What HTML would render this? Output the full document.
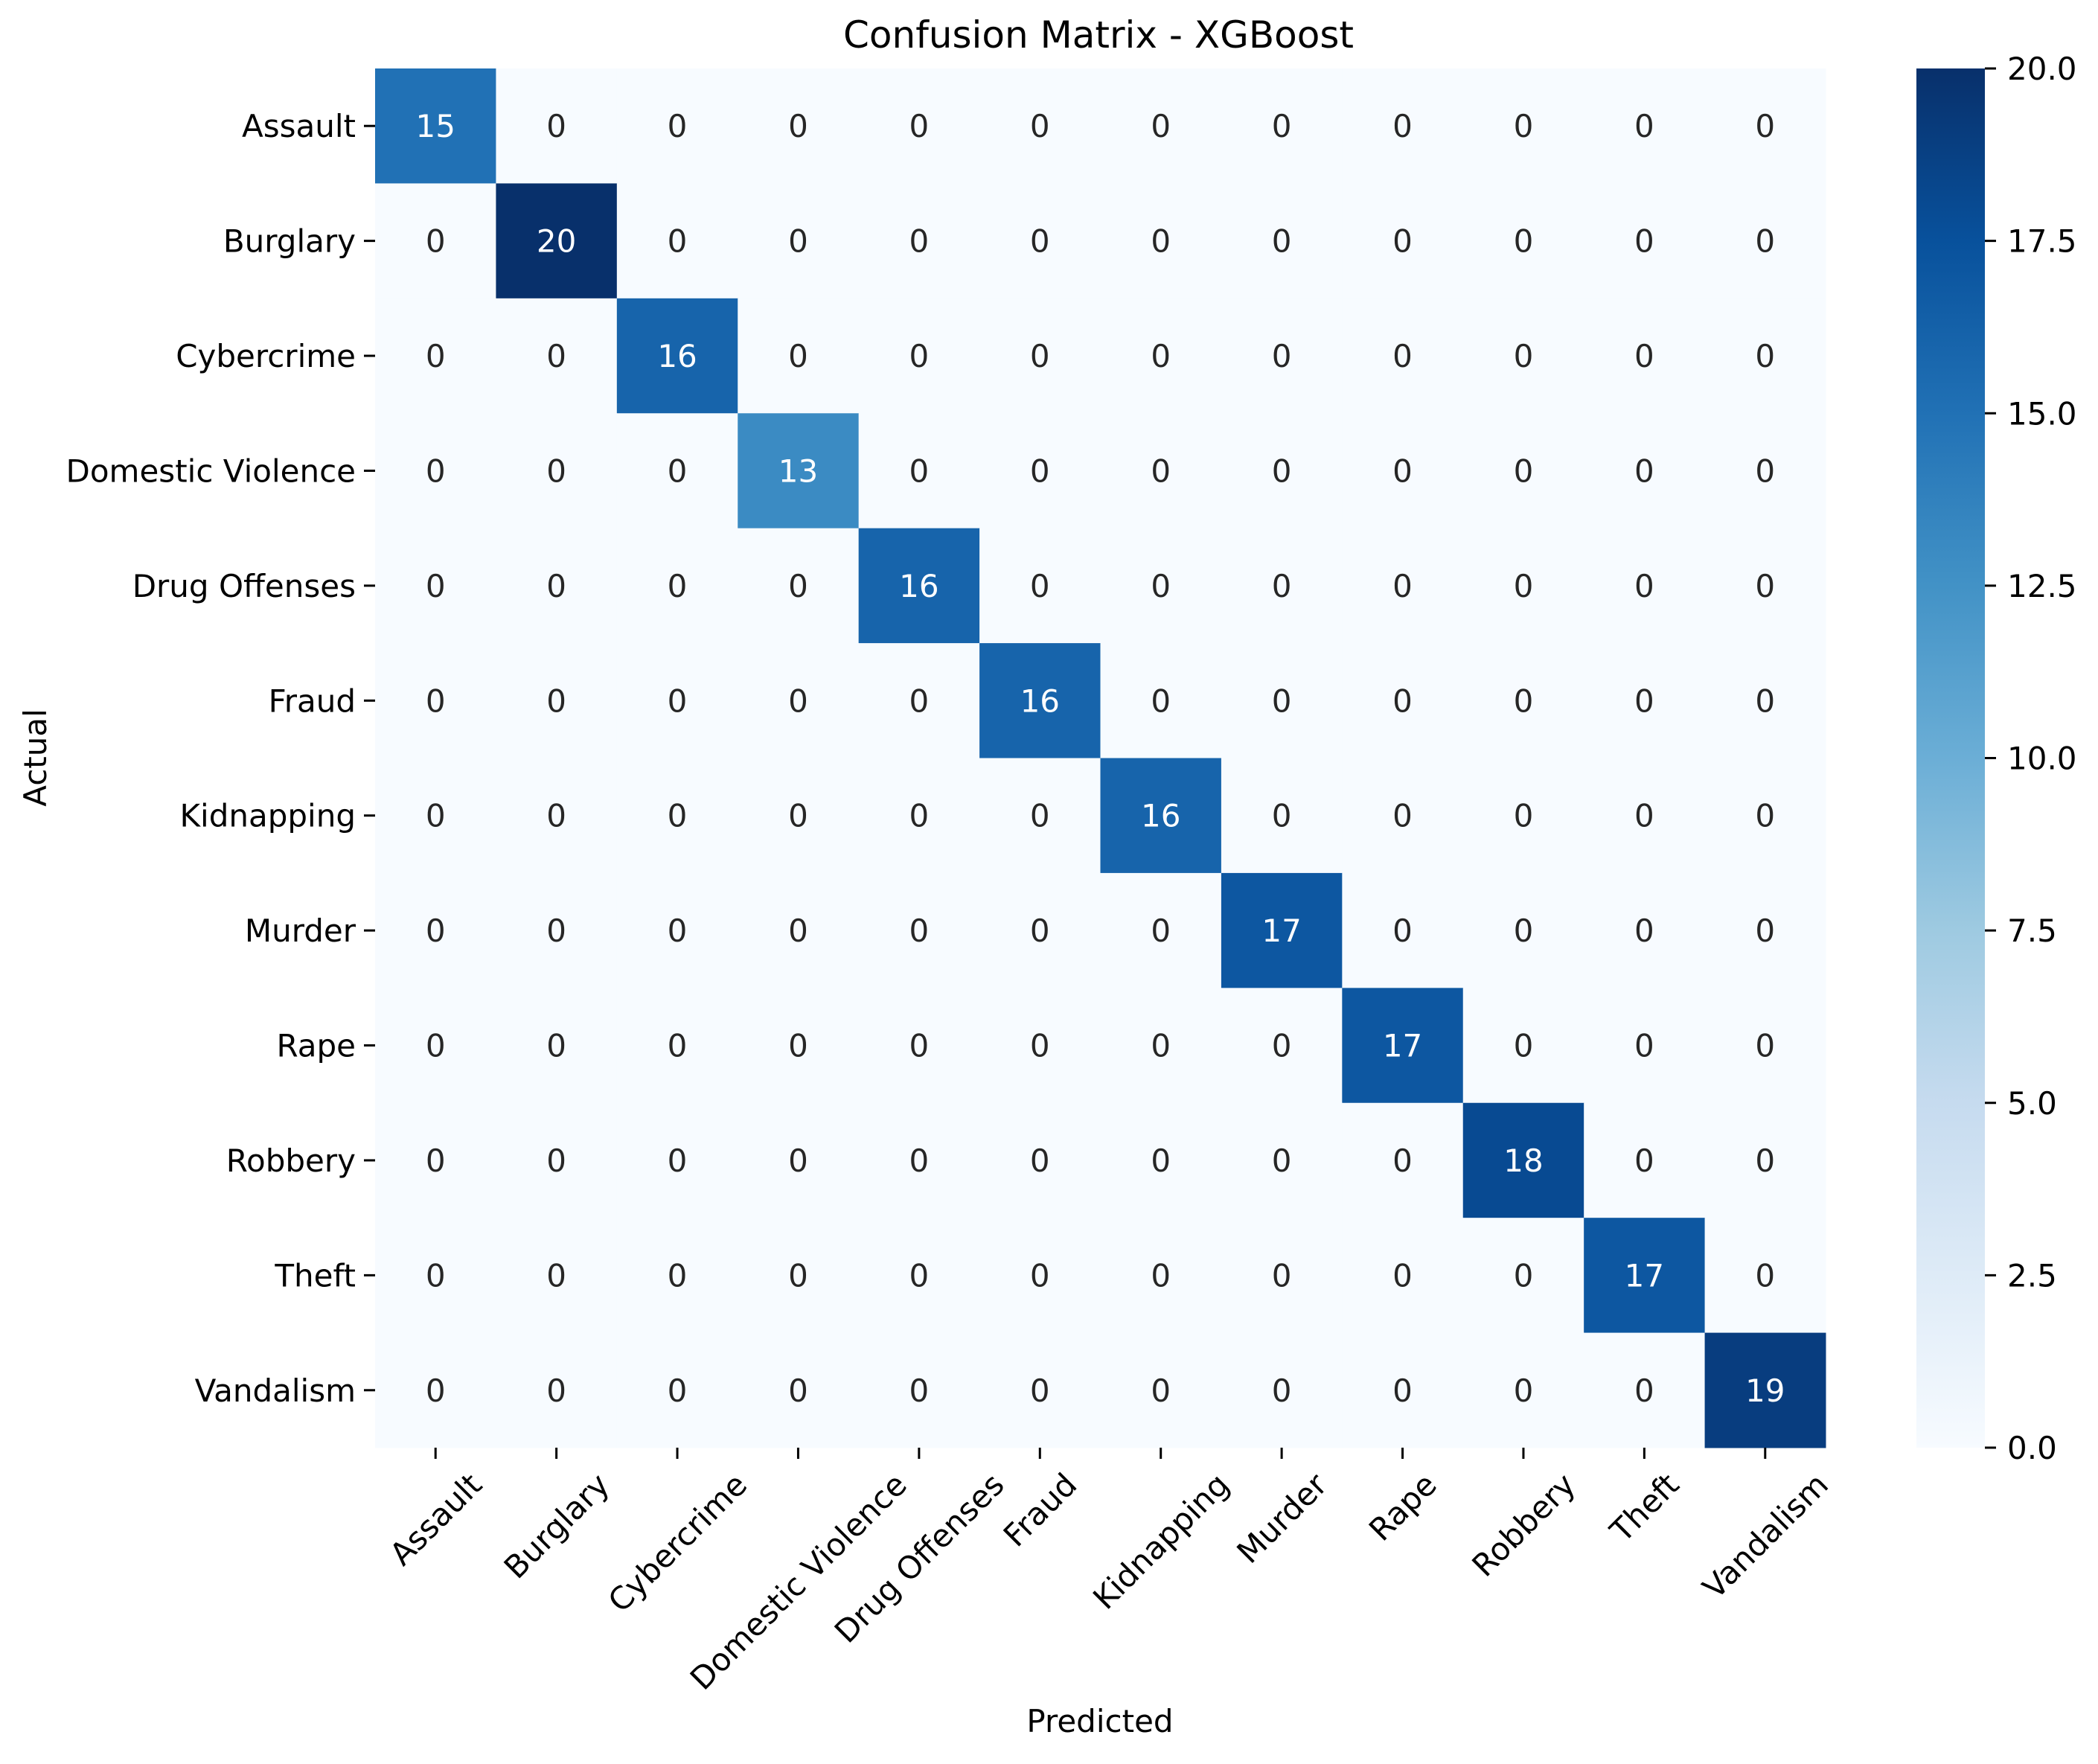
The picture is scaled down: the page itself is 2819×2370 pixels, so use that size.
<!DOCTYPE html>
<html><head><meta charset="utf-8"><style>
html,body{margin:0;padding:0;background:#fff}
svg text{font-family:"DejaVu Sans","Liberation Sans",sans-serif}
</style></head><body>
<svg id="chart" width="2819" height="2365" viewBox="0 0 2819 2365" xmlns="http://www.w3.org/2000/svg">
<defs><linearGradient id="cbgrad" x1="0" y1="1" x2="0" y2="0">
<stop offset="0" stop-color="#f7fbff"/><stop offset="0.125" stop-color="#deebf7"/><stop offset="0.25" stop-color="#c6dbef"/><stop offset="0.375" stop-color="#9ecae1"/><stop offset="0.5" stop-color="#6baed6"/><stop offset="0.625" stop-color="#4292c6"/><stop offset="0.75" stop-color="#2171b5"/><stop offset="0.875" stop-color="#08519c"/><stop offset="1" stop-color="#08306b"/>
</linearGradient></defs>
<g id="cells"></g>
<g id="labels"></g>
<text x="1476" y="64" font-size="50" text-anchor="middle">Confusion Matrix - XGBoost</text>
<text x="1478" y="2327" font-size="42" text-anchor="middle">Predicted</text>
<text transform="translate(62,1018) rotate(-90)" font-size="42" text-anchor="middle">Actual</text>
<rect x="2575" y="92" width="92" height="1853" fill="url(#cbgrad)"/>
<g id="cbticks"></g>
</svg>
<script>
const categories = ["Assault","Burglary","Cybercrime","Domestic Violence","Drug Offenses","Fraud","Kidnapping","Murder","Rape","Robbery","Theft","Vandalism"];
const diagonalValues = [15,20,16,13,16,16,16,17,17,18,17,19];
const colorbarTicks = [0,2.5,5,7.5,10,12.5,15,17.5,20];
const vmin = 0, vmax = 20;

const NS = "http://www.w3.org/2000/svg";
const L = 504, T = 92, R = 2453, B = 1945;
const n = categories.length;
const cw = (R - L) / n, ch = (B - T) / n;
const xPos = i => L + i * cw;
const yPos = i => T + i * ch;
const cbY = v => B - (v - vmin) / (vmax - vmin) * (B - T);
const stops = [[247,251,255],[222,235,247],[198,219,239],[158,202,225],[107,174,214],[66,146,198],[33,113,181],[8,81,156],[8,48,107]];
function color(v){
  let t = Math.max(0, Math.min(1, (v - vmin) / (vmax - vmin))) * 8;
  let i = Math.min(7, Math.floor(t)), f = t - i;
  const c = stops[i].map((a, k) => Math.round(a + (stops[i+1][k] - a) * f));
  return c;
}
function mk(tag, attrs, parent){ const e = document.createElementNS(NS, tag); for (const k in attrs) e.setAttribute(k, attrs[k]); parent.appendChild(e); return e; }
const cells = document.getElementById('cells');
const labels = document.getElementById('labels');
for (let r = 0; r < n; r++) {
  for (let c = 0; c < n; c++) {
    const v = r === c ? diagonalValues[r] : 0;
    const col = color(v);
    const rect = mk('rect', {x: xPos(c), y: yPos(r), width: cw + 0.5, height: ch + 0.5, fill: `rgb(${col})`}, cells);
    
    
    const lum = (0.299 * col[0] + 0.587 * col[1] + 0.114 * col[2]) / 255;
    const t = mk('text', {x: xPos(c) + cw / 2, y: yPos(r) + ch / 2 + 15, 'font-size': 42, 'text-anchor': 'middle', fill: lum < 0.5 ? '#ffffff' : '#262626'}, cells);
    
    
    t.textContent = v;
  }
}
for (let i = 0; i < n; i++) {
  const yc = yPos(i) + ch / 2;
  const tk = mk('line', {x1: L - 15, x2: L, y1: yc, y2: yc, stroke: '#000', 'stroke-width': 3}, labels);
  
  
  const yl = mk('text', {x: L - 26, y: yc + 15, 'font-size': 42, 'text-anchor': 'end'}, labels);
  
  
  yl.textContent = categories[i];
  const xc = xPos(i) + cw / 2;
  const tx = mk('line', {x1: xc, x2: xc, y1: B, y2: B + 15, stroke: '#000', 'stroke-width': 3}, labels);
  
  
  const xl = mk('text', {'font-size': 42, 'text-anchor': 'middle'}, labels);
  
  
  xl.textContent = categories[i];
  const w = xl.getComputedTextLength();
  const h = 42;
  const half = (w + h) / Math.SQRT2 / 2;
  const cy = B + 15 + 12 + half;
  xl.setAttribute('transform', `translate(${xc},${cy}) rotate(-45)`);
  xl.setAttribute('y', 15);
}
const cbt = document.getElementById('cbticks');
colorbarTicks.forEach(v => {
  const y = cbY(v);
  const l = mk('line', {x1: 2667, x2: 2682, y1: y, y2: y, stroke: '#000', 'stroke-width': 3}, cbt);
  
  
  const t = mk('text', {x: 2697, y: y + 15, 'font-size': 42}, cbt);
  
  
  t.textContent = v.toFixed(1);
});
</script>
</body></html>
